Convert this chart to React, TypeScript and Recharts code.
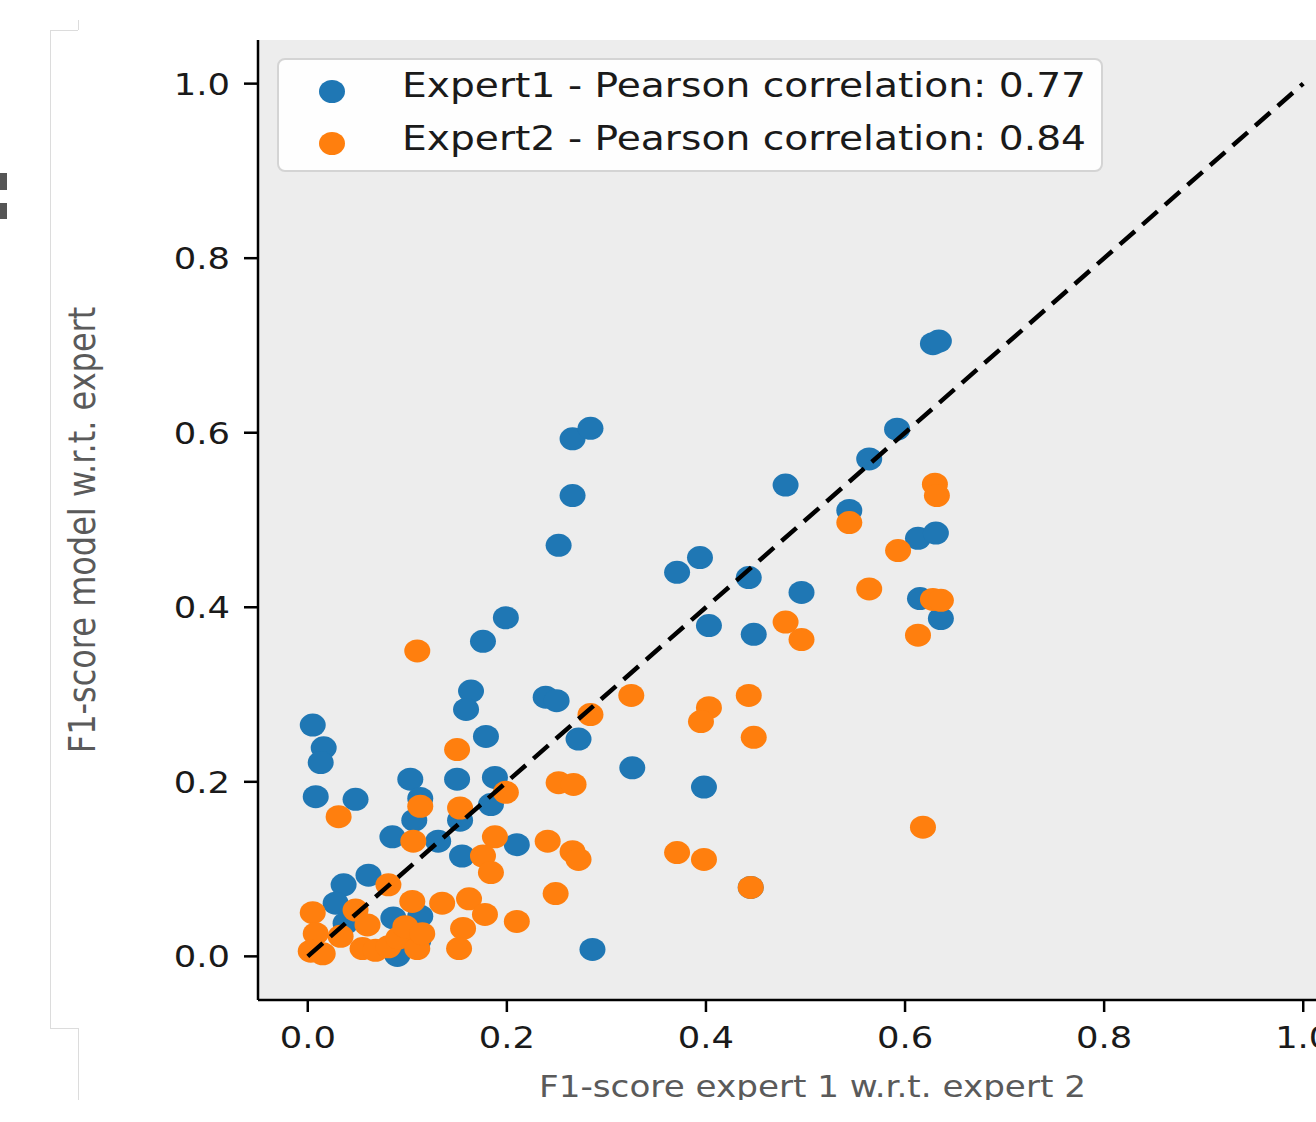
import React from 'react';
import { ScatterChart, Scatter, XAxis, YAxis, ReferenceArea, Legend } from 'recharts';

// Expert1 (blue)
const expert1X = [0.628, 0.634, 0.266, 0.284, 0.266, 0.252, 0.592, 0.564, 0.480, 0.544, 0.613, 0.631, 0.371, 0.394, 0.443, 0.496, 0.615, 0.636, 0.403, 0.448, 0.199, 0.176, 0.164, 0.159, 0.239, 0.250, 0.272, 0.179, 0.005, 0.016, 0.013, 0.008, 0.048, 0.103, 0.113, 0.150, 0.188, 0.184, 0.326, 0.398, 0.153, 0.107, 0.085, 0.131, 0.155, 0.210, 0.061, 0.036, 0.286, 0.445, 0.028, 0.038, 0.086, 0.090, 0.111, 0.113];
const expert1Y = [0.702, 0.705, 0.593, 0.605, 0.528, 0.471, 0.604, 0.570, 0.540, 0.511, 0.479, 0.485, 0.440, 0.457, 0.434, 0.417, 0.410, 0.387, 0.379, 0.369, 0.388, 0.361, 0.304, 0.283, 0.297, 0.293, 0.249, 0.252, 0.265, 0.239, 0.222, 0.183, 0.180, 0.203, 0.181, 0.203, 0.205, 0.174, 0.216, 0.194, 0.156, 0.156, 0.137, 0.132, 0.115, 0.128, 0.093, 0.082, 0.008, 0.079, 0.061, 0.038, 0.044, 0.001, 0.018, 0.046];

// Expert2 (orange)
const expert2X = [0.630, 0.632, 0.544, 0.593, 0.564, 0.628, 0.636, 0.480, 0.496, 0.613, 0.618, 0.110, 0.325, 0.284, 0.403, 0.395, 0.443, 0.448, 0.150, 0.252, 0.267, 0.199, 0.153, 0.113, 0.031, 0.106, 0.188, 0.241, 0.266, 0.272, 0.371, 0.398, 0.176, 0.184, 0.445, 0.249, 0.081, 0.162, 0.135, 0.178, 0.210, 0.156, 0.152, 0.005, 0.008, 0.003, 0.015, 0.033, 0.048, 0.060, 0.055, 0.068, 0.081, 0.091, 0.098, 0.105, 0.110, 0.115];
const expert2Y = [0.541, 0.528, 0.497, 0.465, 0.421, 0.409, 0.408, 0.383, 0.363, 0.368, 0.148, 0.350, 0.299, 0.277, 0.285, 0.269, 0.299, 0.251, 0.237, 0.199, 0.197, 0.188, 0.170, 0.172, 0.160, 0.132, 0.137, 0.132, 0.120, 0.111, 0.119, 0.111, 0.115, 0.096, 0.079, 0.072, 0.082, 0.066, 0.061, 0.048, 0.040, 0.032, 0.009, 0.050, 0.026, 0.006, 0.003, 0.023, 0.053, 0.036, 0.009, 0.007, 0.011, 0.021, 0.034, 0.063, 0.009, 0.026];

// Identity reference line y = x
const diagonalX = [0, 1];
const diagonalY = [0, 1];

const tickValues = [0, 0.2, 0.4, 0.6, 0.8, 1.0];
const axisDomain = [-0.05, 1.05];
const seriesNames = ['Expert1 - Pearson correlation: 0.77', 'Expert2 - Pearson correlation: 0.84'];
const seriesColors = ['#1f77b4', '#ff7f0e'];
const xLabel = 'F1-score expert 1 w.r.t. expert 2';
const yLabel = 'F1-score model w.r.t. expert';

const expert1 = expert1X.map((x, i) => ({ x, y: expert1Y[i] }));
const expert2 = expert2X.map((x, i) => ({ x, y: expert2Y[i] }));
const diagonal = diagonalX.map((x, i) => ({ x, y: diagonalY[i] }));

const SX = 1.14;
const FONT = 'DejaVu Sans';

const Dot = (p: any) => <ellipse cx={p.cx} cy={p.cy} rx={13} ry={11.5} fill={p.fill} />;
const NoDot = () => <g />;

const XTick = (p: any) => (
  <text
    x={0}
    y={0}
    transform={`translate(${p.x},${p.y}) scale(${SX},1)`}
    textAnchor="middle"
    dy="0.71em"
    fontSize={31}
    fontFamily={FONT}
    fill="#1a1a1a"
  >
    {Number(p.payload.value).toFixed(1)}
  </text>
);

const YTick = (p: any) => (
  <text
    x={0}
    y={0}
    transform={`translate(${p.x},${p.y}) scale(${SX},1)`}
    textAnchor="end"
    dy="0.355em"
    fontSize={31}
    fontFamily={FONT}
    fill="#1a1a1a"
  >
    {Number(p.payload.value).toFixed(1)}
  </text>
);

const XLabel = (p: any) => {
  const vb = p.viewBox || { x: 258, y: 1000, width: 1095, height: 60 };
  return (
    <text
      x={0}
      y={0}
      transform={`translate(${vb.x + vb.width / 2 + 7},${vb.y + 97}) scale(${SX},1)`}
      textAnchor="middle"
      fontSize={30}
      fontFamily={FONT}
      fill="#5a5a5a"
    >
      {xLabel}
    </text>
  );
};

const YLabel = (p: any) => {
  const vb = p.viewBox || { x: 158, y: 40, width: 100, height: 960 };
  return (
    <text
      x={0}
      y={0}
      transform={`translate(${vb.x - 63},${vb.y + vb.height / 2 + 10}) scale(${SX},1) rotate(-90)`}
      textAnchor="middle"
      fontSize={32}
      fontFamily={FONT}
      fill="#5a5a5a"
    >
      {yLabel}
    </text>
  );
};

const LegendBox = () => (
  <div
    style={{
      position: 'relative',
      width: 826,
      height: 114,
      boxSizing: 'border-box',
      border: '2px solid #d4d4d4',
      borderRadius: 8,
      background: 'rgba(255,255,255,0.9)',
    }}
  >
    {seriesNames.map((name, i) => (
      <React.Fragment key={name}>
        <div
          style={{
            position: 'absolute',
            left: 55 - 13 - 2,
            top: 33 + i * 52 - 11 - 2,
            width: 26,
            height: 23,
            borderRadius: '50%',
            background: seriesColors[i],
          }}
        />
        <div
          style={{
            position: 'absolute',
            left: 125 - 2,
            top: 10 + i * 53 - 2,
            fontSize: 34.4,
            lineHeight: '34px',
            fontFamily: FONT,
            color: '#1a1a1a',
            whiteSpace: 'nowrap',
            transform: `scaleX(${SX})`,
            transformOrigin: 'left center',
          }}
        >
          {name}
        </div>
      </React.Fragment>
    ))}
  </div>
);

const line = (s: any) => <div style={{ position: 'absolute', background: '#dcdcdc', ...s }} />;

export default function App() {
  return (
    <div
      style={{
        position: 'fixed',
        left: 0,
        top: 0,
        width: 1316,
        height: 1100,
        overflow: 'hidden',
        background: '#ffffff',
      }}
    >
      {line({ left: 50, top: 30, width: 1, height: 998 })}
      {line({ left: 50, top: 30, width: 28, height: 1 })}
      {line({ left: 78, top: 20, width: 1, height: 10 })}
      {line({ left: 50, top: 1028, width: 28, height: 1 })}
      {line({ left: 78, top: 1028, width: 1, height: 72 })}
      <div style={{ position: 'absolute', left: 0, top: 173, width: 7, height: 17, background: '#555' }} />
      <div style={{ position: 'absolute', left: 0, top: 203, width: 7, height: 16, background: '#555' }} />
      <div style={{ position: 'absolute', left: 0, top: 0 }}>
        <ScatterChart width={1420} height={1100} margin={{ top: 40, right: 67, bottom: 40, left: 158 }}>
          <XAxis
            type="number"
            dataKey="x"
            domain={axisDomain}
            ticks={tickValues}
            allowDataOverflow
            height={60}
            axisLine={{ stroke: '#000', strokeWidth: 2.5 }}
            tickLine={{ stroke: '#000', strokeWidth: 2.5 }}
            tickSize={12}
            tickMargin={14}
            tick={<XTick />}
            label={<XLabel />}
            interval={0}
          />
          <YAxis
            type="number"
            dataKey="y"
            domain={axisDomain}
            ticks={tickValues}
            allowDataOverflow
            width={100}
            axisLine={{ stroke: '#000', strokeWidth: 2.5 }}
            tickLine={{ stroke: '#000', strokeWidth: 2.5 }}
            tickSize={14}
            tickMargin={14}
            tick={<YTick />}
            label={<YLabel />}
            interval={0}
          />
          <ReferenceArea
            x1={-0.05}
            x2={1.05}
            y1={-0.05}
            y2={1.05}
            fill="#ededed"
            fillOpacity={1}
            stroke="none"
            ifOverflow="visible"
          />
          <Scatter name={seriesNames[0]} data={expert1} fill={seriesColors[0]} shape={Dot} isAnimationActive={false} />
          <Scatter name={seriesNames[1]} data={expert2} fill={seriesColors[1]} shape={Dot} isAnimationActive={false} />
          <Scatter
            name="identity"
            data={diagonal}
            fill="#000"
            shape={NoDot}
            line={{ stroke: '#000', strokeWidth: 4.5, strokeDasharray: '20 10' }}
            legendType="none"
            isAnimationActive={false}
          />
          <Legend
            layout="vertical"
            align="center"
            verticalAlign="middle"
            content={<LegendBox />}
            wrapperStyle={{ position: 'absolute', left: 277, top: 58, width: 826, height: 114 }}
          />
        </ScatterChart>
      </div>
    </div>
  );
}
